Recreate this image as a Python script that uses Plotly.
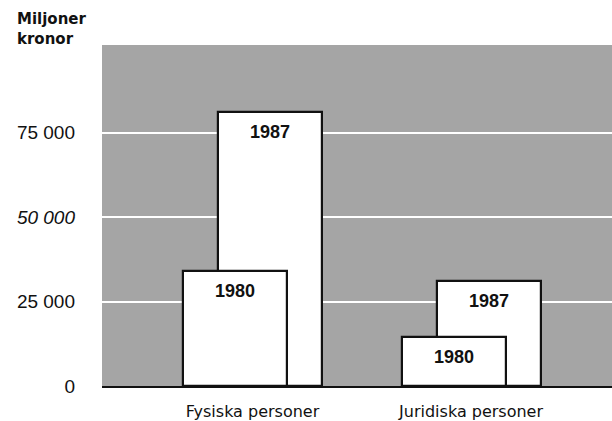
import plotly.graph_objects as go

categories = ["Fysiska personer", "Juridiska personer"]
years = ["1980", "1987"]
values_1980 = [34000, 14500]
values_1987 = [81000, 31000]
y_tickvals = [0, 25000, 50000, 75000]
y_ticktext = ["0", "25 000", "<i>50 000</i>", "75 000"]

BAR_W = 0.476
OFF_1980 = -0.318
OFF_1987 = -0.158
FONT = "DejaVu Sans"
FONT2 = "Liberation Sans"

xpos = list(range(len(categories)))

fig = go.Figure()
bar_line = dict(color="#111111", width=2.2)
fig.add_trace(go.Bar(x=xpos, y=values_1987, width=BAR_W, offset=OFF_1987,
                     marker=dict(color="white", line=bar_line), name="1987"))
fig.add_trace(go.Bar(x=xpos, y=values_1980, width=BAR_W, offset=OFF_1980,
                     marker=dict(color="white", line=bar_line), name="1980"))

for vals, off, yr in [(values_1987, OFF_1987, "1987"), (values_1980, OFF_1980, "1980")]:
    for i, v in enumerate(vals):
        fig.add_annotation(x=i + off + BAR_W / 2, y=v, text="<b>" + yr + "</b>",
                           showarrow=False, yshift=-20, xref="x", yref="y",
                           font=dict(family=FONT2, size=18, color="#111111"))

fig.add_annotation(text="<b>Miljoner<br>kronor</b>", xref="paper", yref="paper",
                   x=(15 - 102) / 510, y=(388 - 8) / 343, xanchor="left", yanchor="top",
                   align="left", showarrow=False,
                   font=dict(family=FONT, size=15, color="#111111"))

fig.update_layout(
    width=612, height=421,
    margin=dict(l=102, r=0, t=45, b=33),
    paper_bgcolor="white", plot_bgcolor="#a5a5a5",
    barmode="overlay", showlegend=False, bargap=0,
    font=dict(family=FONT, color="#111111"),
)
fig.update_xaxes(range=[-0.689, 1.645], tickvals=xpos, ticktext=categories,
                 showgrid=False, zeroline=False, showline=True, linecolor="#111111",
                 linewidth=2, ticks="", tickfont=dict(family=FONT, size=16, color="#111111"),
                 ticklabelstandoff=10)
fig.update_yaxes(range=[0, 100900], tickvals=y_tickvals, ticktext=y_ticktext,
                 showgrid=True, gridcolor="white", gridwidth=2, zeroline=False,
                 showline=False, ticks="",
                 tickfont=dict(family=FONT2, size=19, color="#111111"),
                 ticklabelstandoff=26)

fig.write_html("out.html", config={"displayModeBar": False},
               post_script="document.body.style.margin='0';document.body.style.overflow='hidden';")
